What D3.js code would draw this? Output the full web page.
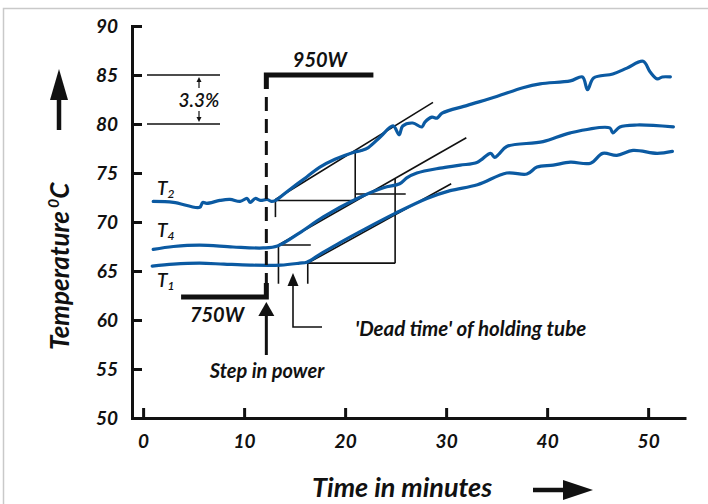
<!doctype html>
<html lang="en">
<head>
<meta charset="UTF-8">
<title>Temperature step response</title>
<style type="text/css">
body {
  margin: 0;
  padding: 0;
  background: #ffffff;
}
svg text {
  font-family: 'Lato', sans-serif;
  font-style: italic;
  font-weight: bold;
  fill: #111111;
}
</style>
<script type='text/javascript' src='https://cdn.jsdelivr.net/npm/d3@7/dist/d3.min.js'></script>
<script type="text/javascript">

// tick labels
var XTicks = [0, 10, 20, 30, 40, 50];
var YTicks = [50, 55, 60, 65, 70, 75, 80, 85, 90];

// T2 (time in minutes, temperature in C)
var T2Time = [1, 3, 5.6, 5.9, 6.3, 7.6, 8.6, 9.6, 10.3, 10.6, 11.1, 11.6, 12.3, 12.7, 13.1, 14.5, 16.2, 17.5, 19, 20.8, 21.6, 22.3, 23.5, 24.75, 25.35, 25.7, 26.7, 27.6, 27.9, 28.6, 29.1, 29.6, 32.1, 35, 37.6, 39.3, 42.3, 43.5, 44.0, 44.6, 46.5, 47.9, 49.5, 50.2, 50.9, 51.4, 52.2];
var T2Temp = [72.1, 72.0, 71.5, 72.0, 71.9, 72.2, 72.3, 72.1, 72.4, 72.0, 72.4, 72.2, 72.3, 72.1, 72.2, 73.3, 74.6, 75.6, 76.4, 77.1, 77.3, 77.6, 78.7, 79.8, 78.9, 79.8, 80.1, 79.7, 80.2, 80.7, 80.6, 81.1, 81.9, 82.8, 83.7, 84.1, 84.4, 84.8, 83.5, 84.7, 85.1, 85.7, 86.4, 85.3, 84.6, 84.8, 84.8];

// T4
var T4Time = [1, 3, 5.6, 8.9, 11.9, 13.3, 15.5, 17.8, 21.2, 23.8, 25.4, 26.1, 27.1, 29.4, 31.4, 33.1, 34.4, 34.8, 35.2, 36.0, 39.6, 42.3, 46.2, 46.5, 47.2, 48.9, 52.5];
var T4Temp = [67.2, 67.5, 67.65, 67.45, 67.35, 67.55, 68.9, 70.5, 72.4, 73.5, 73.9, 74.5, 75.0, 75.5, 75.8, 76.1, 77.0, 76.6, 76.9, 77.7, 78.2, 79.1, 79.6, 79.1, 79.7, 79.9, 79.7];

// T1
var T1Time = [0.9, 3, 5.6, 8, 10.6, 13.6, 15.5, 16.2, 17.5, 19.5, 22, 25, 28.1, 30.4, 33.1, 36.0, 38.0, 39.0, 40.6, 42.3, 44.3, 45.5, 46.9, 48.5, 50.9, 52.4];
var T1Temp = [65.5, 65.7, 65.8, 65.7, 65.6, 65.6, 65.8, 65.9, 66.7, 67.9, 69.3, 70.9, 72.4, 73.2, 73.8, 75.0, 74.9, 75.6, 75.8, 76.1, 76.0, 77.0, 76.8, 77.3, 77.0, 77.2];

// construction lines [t1, T1, t2, T2]
var GuideLines = [
  [13.1, 72.3, 28.7, 82.2],   // T2 tangent
  [13.1, 72.2, 21.0, 72.2],
  [21.0, 72.2, 21.0, 77.2],
  [13.1, 72.2, 13.1, 70.5],
  [21.0, 72.85, 26.0, 72.85],
  [13.4, 67.65, 32.0, 78.6],  // T4 tangent
  [13.4, 67.65, 16.6, 67.65],
  [13.4, 67.65, 13.4, 63.7],
  [16.3, 65.8, 30.5, 73.9],   // T1 tangent
  [16.3, 65.8, 24.95, 65.8],
  [24.95, 65.8, 24.95, 74.4],
  [16.3, 65.8, 16.3, 63.7]
];

// power step
var StepTime = 12.2;
var PowerLow = { label: '750W', from: 3.76, level: 62.35 };
var PowerHigh = { label: '950W', to: 22.8, level: 85 };

var CurveColor = '#0b5aa2';

function translate(x, y) {
  return 'translate(' + x + ',' + y + ')';
}

function zip(a, b) {
  return a.map(function(v, i) { return [v, b[i]]; });
}

function init() {
  var w = 708;
  var h = 504;
  var svg = d3.select('#chart')
              .append('svg')
              .attr('width', w)
              .attr('height', h);

  // thin frame
  svg.append('rect')
    .attr('x', 3.5).attr('y', 8.5)
    .attr('width', 720).attr('height', 520)
    .attr('fill', 'none')
    .attr('stroke', '#c9c9c9')
    .attr('stroke-width', 1.5);

  var x = d3.scaleLinear().domain([-1.1, 53.6]).range([132, 684.5]);
  var y = d3.scaleLinear().domain([50, 90]).range([418, 26]);

  // axes
  var yAxis = d3.axisLeft(y).tickValues(YTicks).tickSizeInner(-10).tickSizeOuter(0).tickPadding(14);
  var xAxis = d3.axisBottom(x).tickValues(XTicks).tickSizeInner(-10).tickSizeOuter(0).tickPadding(16);

  var gy = svg.append('g').attr('transform', translate(x(-1.1), 0)).call(yAxis);
  var gx = svg.append('g').attr('transform', translate(0, y(50))).call(xAxis);

  [gy, gx].forEach(function(g) {
    g.select('.domain').attr('stroke', '#111').attr('stroke-width', 3).attr('stroke-linecap', 'square');
    g.selectAll('.tick line').attr('stroke', '#111').attr('stroke-width', 3);
    g.selectAll('.tick text')
      .attr('fill', '#111')
      .style('font-size', '19px')
      .style('font-family', 'Lato, sans-serif')
      .style('font-style', 'italic')
      .style('font-weight', 'bold');
  });
  gy.selectAll('.tick text').attr('dy', '0.36em');
  gx.selectAll('.tick text').attr('dy', '0.72em');

  // construction lines
  svg.selectAll('line.guide').data(GuideLines).enter()
    .append('line')
    .attr('class', 'guide')
    .attr('x1', function(d) { return x(d[0]); })
    .attr('y1', function(d) { return y(d[1]); })
    .attr('x2', function(d) { return x(d[2]); })
    .attr('y2', function(d) { return y(d[3]); })
    .attr('stroke', '#111')
    .attr('stroke-width', 1.6);

  // curves
  var line = d3.line()
    .x(function(d) { return x(d[0]); })
    .y(function(d) { return y(d[1]); })
    .curve(d3.curveCatmullRom.alpha(0.5));

  var series = [zip(T2Time, T2Temp), zip(T4Time, T4Temp), zip(T1Time, T1Temp)];
  svg.selectAll('path.temp').data(series).enter()
    .append('path')
    .attr('class', 'temp')
    .attr('d', line)
    .attr('fill', 'none')
    .attr('stroke', CurveColor)
    .attr('stroke-width', 3.2)
    .attr('stroke-linejoin', 'round')
    .attr('stroke-linecap', 'round');

  // power step: dashed vertical + thick bars
  var sx = x(StepTime);
  svg.append('line')
    .attr('x1', sx).attr('y1', y(PowerHigh.level))
    .attr('x2', sx).attr('y2', y(PowerLow.level))
    .attr('stroke', '#111').attr('stroke-width', 3)
    .attr('stroke-dasharray', '14,8');
  svg.append('path')
    .attr('d', 'M' + sx + ',' + (y(PowerHigh.level) + 14) + 'V' + y(PowerHigh.level) + 'H' + x(PowerHigh.to))
    .attr('fill', 'none').attr('stroke', '#111').attr('stroke-width', 5);
  svg.append('path')
    .attr('d', 'M' + x(PowerLow.from) + ',' + y(PowerLow.level) + 'H' + sx + 'V' + (y(PowerLow.level) - 14))
    .attr('fill', 'none').attr('stroke', '#111').attr('stroke-width', 5);

  svg.append('text').attr('x', (sx + x(PowerHigh.to)) / 2).attr('y', 67)
    .attr('text-anchor', 'middle').style('font-size', '20px').text(PowerHigh.label);
  svg.append('text').attr('x', 217).attr('y', 322)
    .attr('text-anchor', 'middle').style('font-size', '20px').text(PowerLow.label);

  // step in power arrow
  svg.append('line').attr('x1', sx).attr('y1', 355).attr('x2', sx).attr('y2', 312)
    .attr('stroke', '#111').attr('stroke-width', 3);
  svg.append('path').attr('d', 'M' + sx + ',302L' + (sx - 8) + ',316L' + (sx + 8) + ',316Z').attr('fill', '#111');
  svg.append('text').attr('x', 267).attr('y', 378)
    .attr('text-anchor', 'middle').style('font-size', '20px').text('Step in power');

  // dead time arrow
  svg.append('path').attr('d', 'M293,284V327H322')
    .attr('fill', 'none').attr('stroke', '#111').attr('stroke-width', 1.6);
  svg.append('path').attr('d', 'M293,273L287.5,286L298.5,286Z').attr('fill', '#111');
  svg.append('text').attr('x', 355).attr('y', 336)
    .style('font-size', '20.5px').text("'Dead time' of holding tube");

  // 3.3% band
  [85, 80].forEach(function(v) {
    svg.append('line').attr('x1', 147).attr('x2', 220).attr('y1', y(v)).attr('y2', y(v))
      .attr('stroke', '#111').attr('stroke-width', 1.6);
  });
  svg.append('line').attr('x1', 199).attr('x2', 199).attr('y1', 88).attr('y2', 80)
    .attr('stroke', '#111').attr('stroke-width', 1.2);
  svg.append('path').attr('d', 'M199,77L196.5,82L201.5,82Z').attr('fill', '#111');
  svg.append('line').attr('x1', 199).attr('x2', 199).attr('y1', 111).attr('y2', 119)
    .attr('stroke', '#111').attr('stroke-width', 1.2);
  svg.append('path').attr('d', 'M199,122L196.5,117L201.5,117Z').attr('fill', '#111');
  svg.append('text').attr('x', 199).attr('y', 107)
    .attr('text-anchor', 'middle').style('font-size', '19px').style('font-weight', '600').text('3.3%');

  // curve labels
  [['2', 195], ['4', 237], ['1', 287]].forEach(function(d) {
    var t = svg.append('text').attr('x', 157).attr('y', d[1]).style('font-size', '19px').style('font-weight', '600');
    t.append('tspan').text('T');
    t.append('tspan').attr('dy', 3).style('font-size', '12px').text(d[0]);
  });

  // axis titles
  var yt = svg.append('text')
    .attr('transform', translate(69, 350) + ' rotate(-90)')
    .style('font-size', '26px');
  yt.append('tspan').text('Temperature');
  yt.append('tspan').attr('dx', 3).attr('dy', -10).style('font-size', '16px').text('0');
  yt.append('tspan').attr('dy', 10).text('C');

  svg.append('line').attr('x1', 59).attr('x2', 59).attr('y1', 130).attr('y2', 96)
    .attr('stroke', '#111').attr('stroke-width', 4.5);
  svg.append('path').attr('d', 'M59,69L50,100L68,100Z').attr('fill', '#111');

  svg.append('text').attr('x', 312).attr('y', 497)
    .style('font-size', '27px').text('Time in minutes');
  svg.append('line').attr('x1', 533).attr('x2', 566).attr('y1', 490).attr('y2', 490)
    .attr('stroke', '#111').attr('stroke-width', 4.5);
  svg.append('path').attr('d', 'M593,490L563,480L563,500Z').attr('fill', '#111');
}

window.onload = init;

</script>
</head>
<body>
  <div id="chart"></div>
</body>
</html>
